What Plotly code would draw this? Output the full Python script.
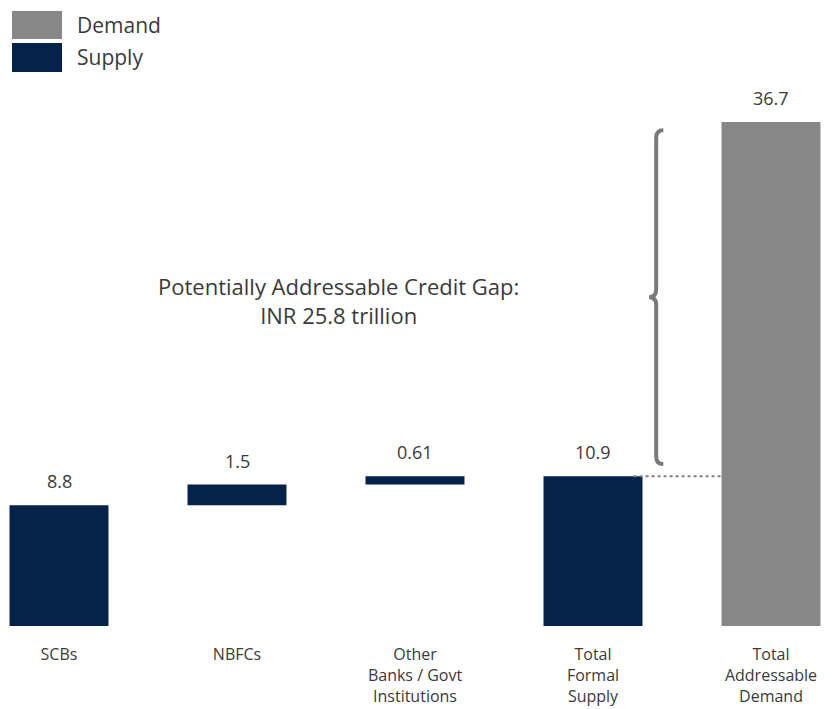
import plotly.graph_objects as go

# ---- data ----
supply_categories = ["SCBs", "NBFCs", "Other<br>Banks / Govt<br>Institutions", "Total<br>Formal<br>Supply"]
demand_categories = ["Total<br>Addressable<br>Demand"]
supply_components = [8.8, 1.5, 0.61]   # INR trillion
total_formal_supply = 10.9
total_addressable_demand = 36.7
supply_labels = ["8.8", "1.5", "0.61", "10.9"]
demand_labels = ["36.7"]
credit_gap_label = "Potentially Addressable Credit Gap:<br>INR 25.8 trillion"
series_names = ["Demand", "Supply"]

NAVY = "#05224a"
GREY = "#878787"
TXT = "#3a3a3a"
FONT = "Open Sans"

# floating bases for the waterfall components
bases = []
run = 0.0
for v in supply_components:
    bases.append(run)
    run += v
supply_vals = supply_components + [total_formal_supply]
supply_bases = bases + [0]
n_sup = len(supply_vals)
xs_sup = list(range(n_sup))
xs_dem = [n_sup]
all_ticks = supply_categories + demand_categories

W, H = 838, 709
ML, MR, MT, MB = 0, 0, 80, 83
PH = H - MT - MB
BARW = 0.556
px_per_unit = 13.73

fig = go.Figure()
fig.add_trace(go.Bar(
    x=xs_sup, y=supply_vals, base=supply_bases, width=BARW,
    marker=dict(color=NAVY, line=dict(width=0)),
    name=series_names[1], showlegend=False, hoverinfo="skip",
))
fig.add_trace(go.Bar(
    x=xs_dem, y=[total_addressable_demand], width=BARW,
    marker=dict(color=GREY, line=dict(width=0)),
    name=series_names[0], showlegend=False, hoverinfo="skip",
))

# value labels above bar tops
tops = [b + v for b, v in zip(supply_bases, supply_vals)] + [total_addressable_demand]
for xv, yv, lab in zip(xs_sup + xs_dem, tops, supply_labels + demand_labels):
    fig.add_annotation(x=xv, y=yv, xref="x", yref="y", text=lab, showarrow=False,
                       yanchor="bottom", yshift=10,
                       font=dict(family=FONT, size=18, color=TXT))

# dotted connector from total supply to demand bar
fig.add_shape(type="line", xref="x", yref="y",
              x0=xs_sup[-1] + BARW / 2 - 0.05, x1=xs_dem[0] - BARW / 2,
              y0=total_formal_supply, y1=total_formal_supply,
              line=dict(color="#808080", width=2, dash="dot"))

# curly brace marking the gap
xs = xs_sup[-1] + 0.355
hx = 0.04
ytop = total_addressable_demand - 0.6
ybot = total_formal_supply + 0.9
ymid = (ytop + ybot) / 2
d = 0.55
path = (f"M {xs+hx},{ytop} Q {xs},{ytop} {xs},{ytop-d} "
        f"L {xs},{ymid+d} Q {xs},{ymid} {xs-hx},{ymid} "
        f"Q {xs},{ymid} {xs},{ymid-d} "
        f"L {xs},{ybot+d} Q {xs},{ybot} {xs+hx},{ybot}")
fig.add_shape(type="path", xref="x", yref="y", path=path,
              line=dict(color="#7a7a7a", width=4))

fig.add_annotation(x=(338 - 59) / 178, y=(626 - 300) / px_per_unit,
                   xref="x", yref="y", text=credit_gap_label, showarrow=False,
                   font=dict(family=FONT, size=22, color=TXT), align="center")

# legend (drawn manually, large swatches)
def py(p):
    return (H - MB - p) / PH

legend_rows = [(series_names[0], GREY, 11, 39), (series_names[1], NAVY, 43, 72)]
for name, col, t, b in legend_rows:
    fig.add_shape(type="rect", xref="paper", yref="paper",
                  x0=12 / W, x1=62 / W, y0=py(b), y1=py(t),
                  fillcolor=col, line=dict(width=0))
    fig.add_annotation(xref="paper", yref="paper", x=75 / W, y=py((t + b) / 2),
                       text=name, showarrow=False, xanchor="left", yanchor="middle",
                       font=dict(family=FONT, size=21, color=TXT))

fig.update_layout(
    width=W, height=H, margin=dict(l=ML, r=MR, t=MT, b=MB, autoexpand=False),
    plot_bgcolor="white", paper_bgcolor="white",
    barmode="overlay",
    xaxis=dict(range=[-59 / 178, (W - 59) / 178], tickvals=xs_sup + xs_dem,
               ticktext=all_ticks, showgrid=False, zeroline=False, showline=False,
               ticks="", ticklabelstandoff=17, automargin=False,
               tickfont=dict(family=FONT, size=16, color=TXT)),
    yaxis=dict(range=[0, PH / px_per_unit], visible=False, showgrid=False),
    showlegend=False,
)

fig.write_html("out.html", config={"displayModeBar": False},
               post_script="document.body.style.margin='0px';document.body.style.overflow='hidden';")
